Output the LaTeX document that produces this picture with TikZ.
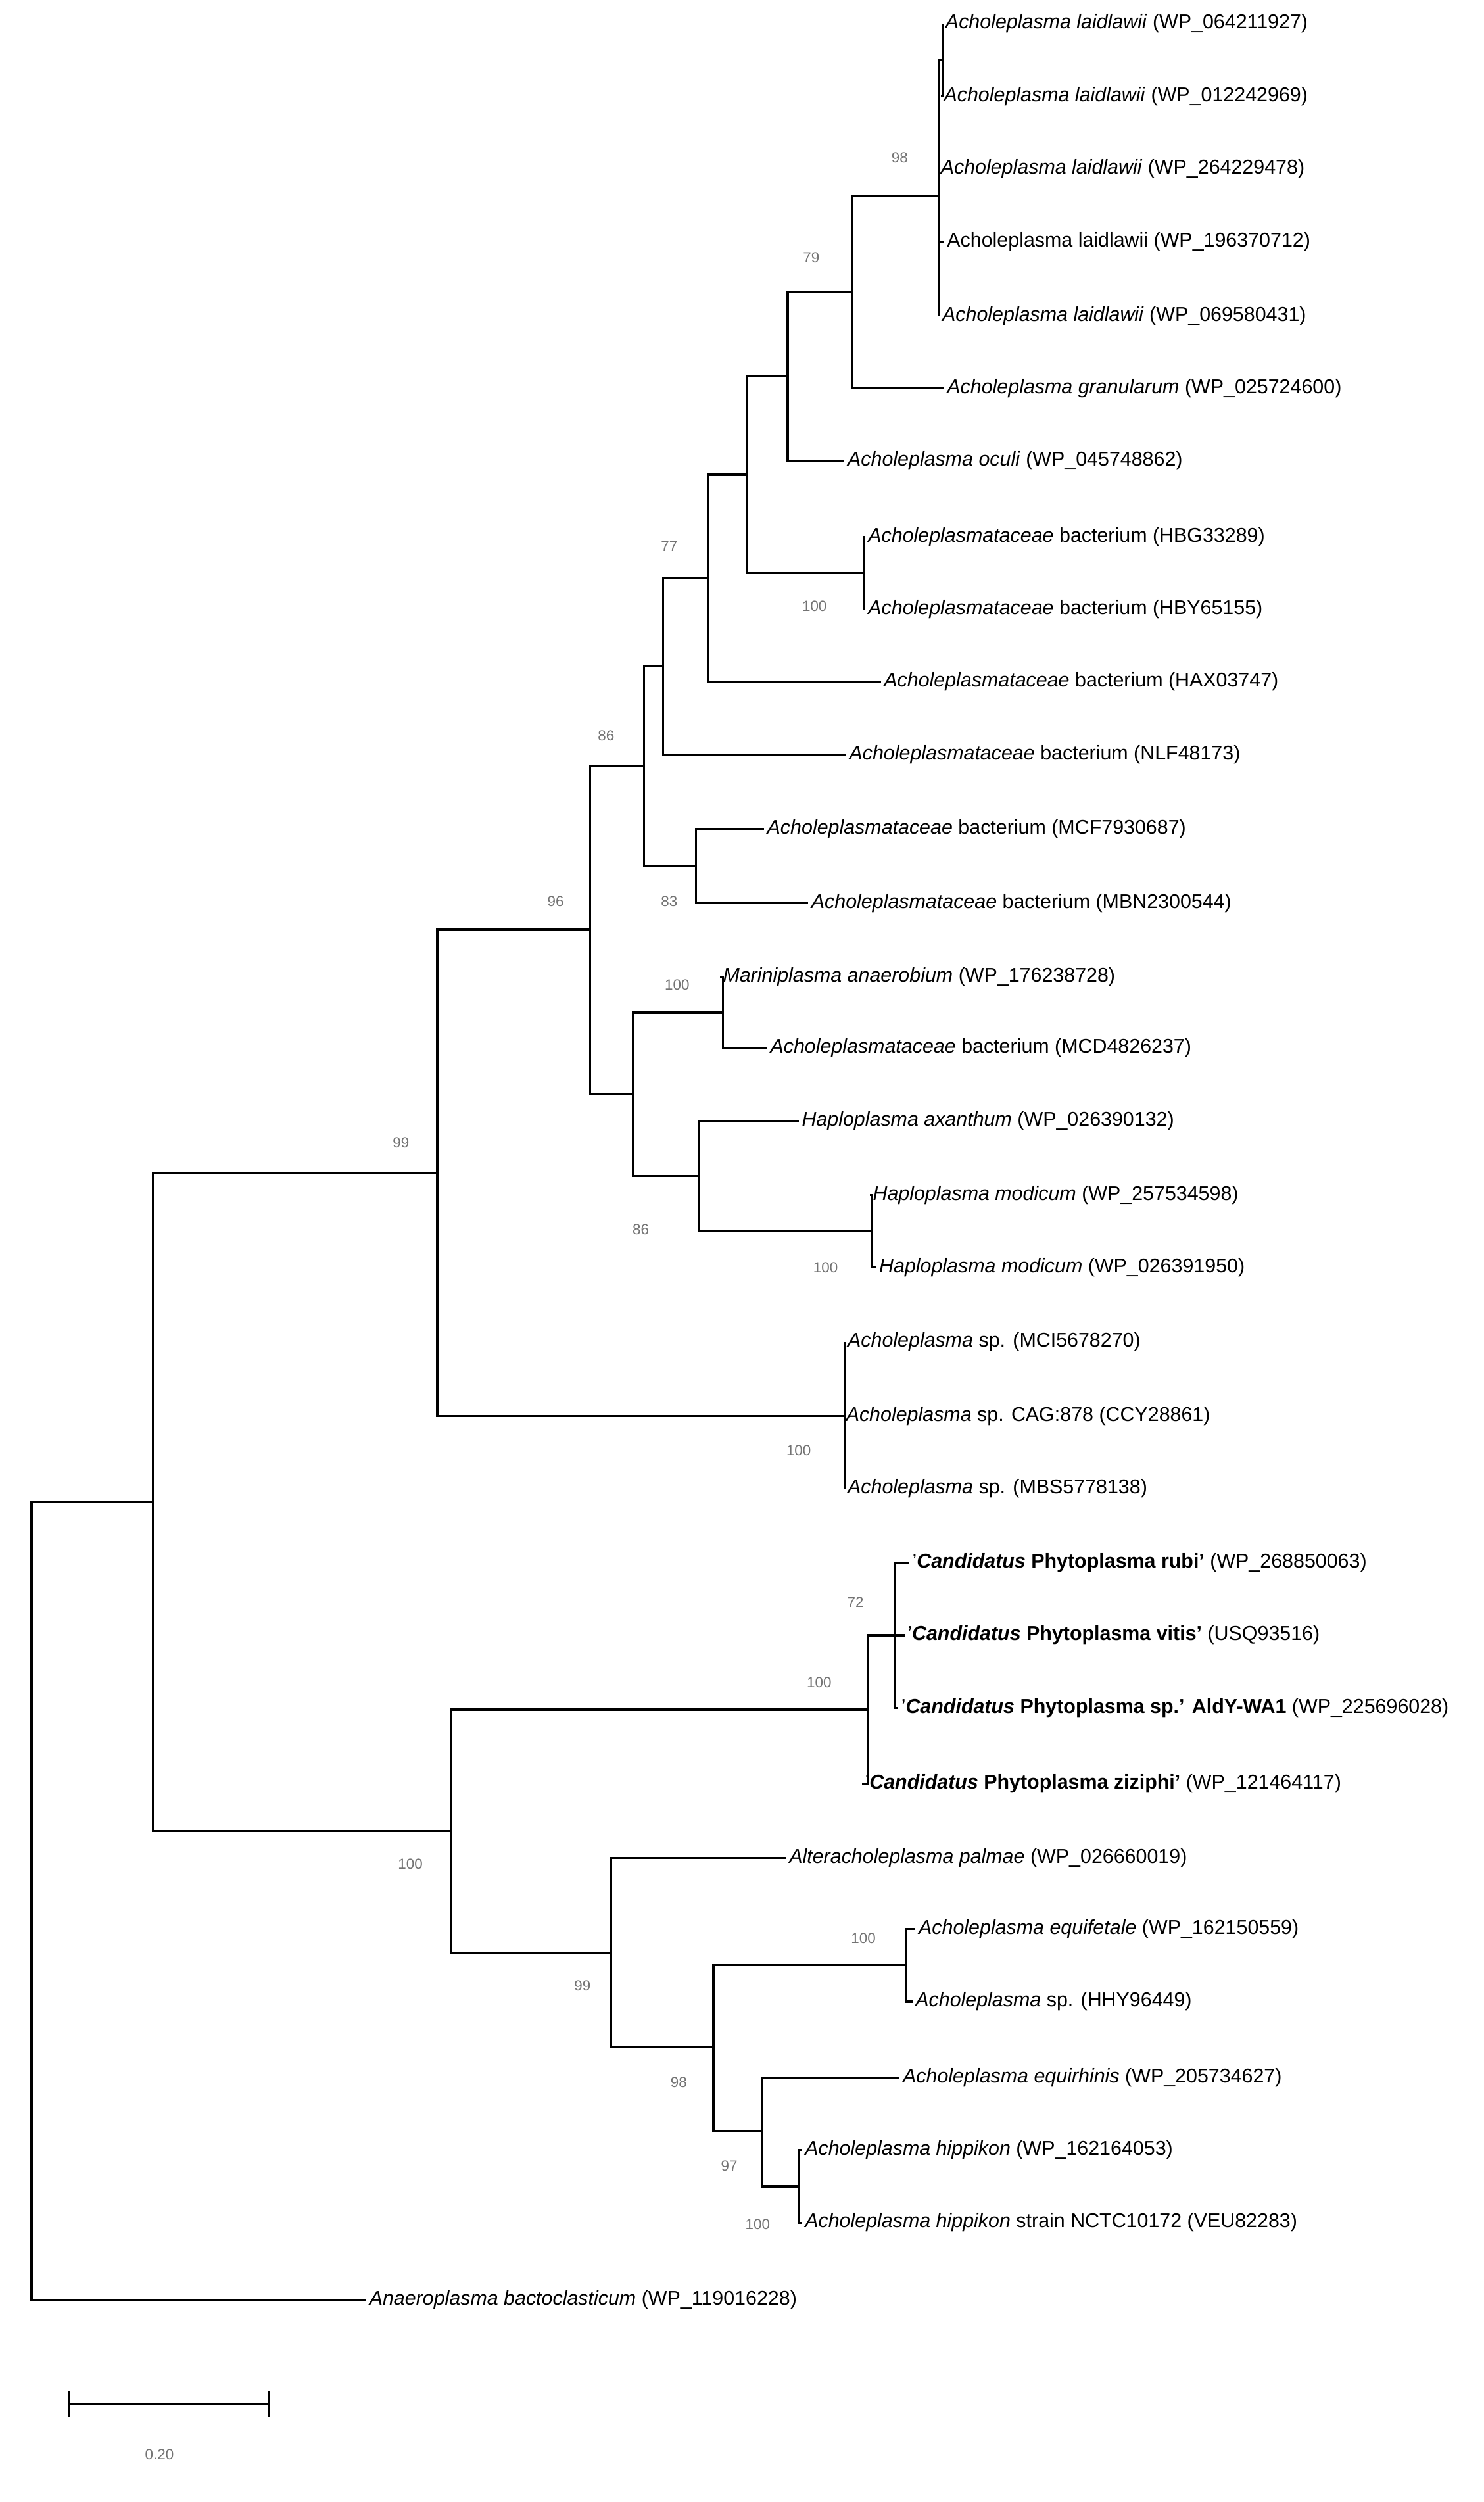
\documentclass[tikz,border=0pt]{standalone}
\usepackage{fontspec}
\setmainfont{Liberation Sans}
\begin{document}
\begin{tikzpicture}[x=0.6pt,y=-0.6pt,
  lf/.style={anchor=west,inner sep=1pt,font=\fontsize{7.6}{9}\selectfont},
  bs/.style={font=\fontsize{5.6}{7}\selectfont,text=black!55,inner sep=0pt},
  br/.style={line width=0.8pt}]
\useasboundingbox (0,0) rectangle (940,1585);
% leaves
\node[lf] (l0) at (597,15) {\textit{Acholeplasma laidlawii} (WP\_064211927)};
\node[lf] (l1) at (596,61) {\textit{Acholeplasma laidlawii} (WP\_012242969)};
\node[lf] (l2) at (594,107) {\textit{Acholeplasma laidlawii} (WP\_264229478)};
\node[lf] (l3) at (598,153) {Acholeplasma laidlawii (WP\_196370712)};
\node[lf] (l4) at (595,200) {\textit{Acholeplasma laidlawii} (WP\_069580431)};
\node[lf] (l5) at (598,246) {\textit{Acholeplasma granularum} (WP\_025724600)};
\node[lf] (l6) at (535,292) {\textit{Acholeplasma oculi} (WP\_045748862)};
\node[lf] (l7) at (548,340) {\textit{Acholeplasmataceae} bacterium (HBG33289)};
\node[lf] (l8) at (548,386) {\textit{Acholeplasmataceae} bacterium (HBY65155)};
\node[lf] (l9) at (558,432) {\textit{Acholeplasmataceae} bacterium (HAX03747)};
\node[lf] (l10) at (536,478) {\textit{Acholeplasmataceae} bacterium (NLF48173)};
\node[lf] (l11) at (484,525) {\textit{Acholeplasmataceae} bacterium (MCF7930687)};
\node[lf] (l12) at (512,572) {\textit{Acholeplasmataceae} bacterium (MBN2300544)};
\node[lf] (l13) at (456,619) {\textit{Mariniplasma anaerobium} (WP\_176238728)};
\node[lf] (l14) at (486,664) {\textit{Acholeplasmataceae} bacterium (MCD4826237)};
\node[lf] (l15) at (506,710) {\textit{Haploplasma axanthum} (WP\_026390132)};
\node[lf] (l16) at (551,757) {\textit{Haploplasma modicum} (WP\_257534598)};
\node[lf] (l17) at (555,803) {\textit{Haploplasma modicum} (WP\_026391950)};
\node[lf] (l18) at (535,850) {\textit{Acholeplasma} sp. (MCI5678270)};
\node[lf] (l19) at (534,897) {\textit{Acholeplasma} sp. CAG:878 (CCY28861)};
\node[lf] (l20) at (535,943) {\textit{Acholeplasma} sp. (MBS5778138)};
\node[lf] (l21) at (576,990) {'\textbf{\textit{Candidatus} Phytoplasma rubi'} (WP\_268850063)};
\node[lf] (l22) at (573,1036) {'\textbf{\textit{Candidatus} Phytoplasma vitis'} (USQ93516)};
\node[lf] (l23) at (569,1082) {'\textbf{\textit{Candidatus} Phytoplasma sp.' AldY-WA1} (WP\_225696028)};
\node[lf] (l24) at (546,1130) {'\textbf{\textit{Candidatus} Phytoplasma ziziphi'} (WP\_121464117)};
\node[lf] (l25) at (498,1177) {\textit{Alteracholeplasma palmae} (WP\_026660019)};
\node[lf] (l26) at (580,1222) {\textit{Acholeplasma equifetale} (WP\_162150559)};
\node[lf] (l27) at (578,1268) {\textit{Acholeplasma} sp. (HHY96449)};
\node[lf] (l28) at (570,1316) {\textit{Acholeplasma equirhinis} (WP\_205734627)};
\node[lf] (l29) at (508,1362) {\textit{Acholeplasma hippikon} (WP\_162164053)};
\node[lf] (l30) at (508,1408) {\textit{Acholeplasma hippikon} strain NCTC10172 (VEU82283)};
\node[lf] (l31) at (232,1457) {\textit{Anaeroplasma bactoclasticum} (WP\_119016228)};
% internal nodes
\coordinate (n01) at (597,38);
\coordinate (A) at (595,124.5);
\coordinate (B) at (539.6,185);
\coordinate (C) at (499,238.5);
\coordinate (Dh) at (547,363);
\coordinate (E) at (473,300.75);
\coordinate (F) at (449,366);
\coordinate (G) at (420,422);
\coordinate (Nm) at (441,548.5);
\coordinate (H) at (408,485);
\coordinate (Nr) at (458,641.5);
\coordinate (Nd) at (552,780);
\coordinate (Nh) at (443,745);
\coordinate (I) at (401,693);
\coordinate (J) at (374,589);
\coordinate (Na) at (535,897);
\coordinate (K) at (277,743);
\coordinate (Nb) at (567,1036);
\coordinate (L) at (550,1083);
\coordinate (Ne) at (574,1245);
\coordinate (Np) at (506,1385);
\coordinate (Nq) at (483,1350);
\coordinate (M) at (452,1297);
\coordinate (N) at (387,1237);
\coordinate (O) at (286,1160);
\coordinate (P) at (97,951.5);
\coordinate (R) at (20,1204);
% branches
\begin{scope}[br]
\draw (n01) |- (l0.west); \draw (n01) |- (l1.west);
\draw (A) |- (n01); \draw (A) |- (l2.west); \draw (A) |- (l3.west); \draw (A) |- (l4.west);
\draw (B) |- (A); \draw (B) |- (l5.west);
\draw (C) |- (B); \draw (C) |- (l6.west);
\draw (Dh) |- (l7.west); \draw (Dh) |- (l8.west);
\draw (E) |- (C); \draw (E) |- (Dh);
\draw (F) |- (E); \draw (F) |- (l9.west);
\draw (G) |- (F); \draw (G) |- (l10.west);
\draw (Nm) |- (l11.west); \draw (Nm) |- (l12.west);
\draw (H) |- (G); \draw (H) |- (Nm);
\draw (Nr) |- (l13.west); \draw (Nr) |- (l14.west);
\draw (Nd) |- (l16.west); \draw (Nd) |- (l17.west);
\draw (Nh) |- (l15.west); \draw (Nh) |- (Nd);
\draw (I) |- (Nr); \draw (I) |- (Nh);
\draw (J) |- (H); \draw (J) |- (I);
\draw (Na) |- (l18.west); \draw (Na) |- (l19.west); \draw (Na) |- (l20.west);
\draw (K) |- (J); \draw (K) |- (Na);
\draw (Nb) |- (l21.west); \draw (Nb) |- (l22.west); \draw (Nb) |- (l23.west);
\draw (L) |- (Nb); \draw (L) |- (l24.west);
\draw (Ne) |- (l26.west); \draw (Ne) |- (l27.west);
\draw (Np) |- (l29.west); \draw (Np) |- (l30.west);
\draw (Nq) |- (l28.west); \draw (Nq) |- (Np);
\draw (M) |- (Ne); \draw (M) |- (Nq);
\draw (N) |- (l25.west); \draw (N) |- (M);
\draw (O) |- (L); \draw (O) |- (N);
\draw (P) |- (K); \draw (P) |- (O);
\draw (R) |- (P); \draw (R) |- (l31.west);
\end{scope}
% bootstrap
\node[bs] (b1) at (570,100) {98};
\node[bs] (b2) at (514,163) {79};
\node[bs] (b3) at (516,384) {100};
\node[bs] (b4) at (424,346) {77};
\node[bs] (b5) at (424,571) {83};
\node[bs] (b6) at (384,466) {86};
\node[bs] (b7) at (429,624) {100};
\node[bs] (b8) at (523,803) {100};
\node[bs] (b9) at (406,779) {86};
\node[bs] (b10) at (352,571) {96};
\node[bs] (b11) at (506,919) {100};
\node[bs] (b12) at (254,724) {99};
\node[bs] (b13) at (542,1015) {72};
\node[bs] (b14) at (519,1066) {100};
\node[bs] (b15) at (547,1228) {100};
\node[bs] (b16) at (480,1409) {100};
\node[bs] (b17) at (462,1372) {97};
\node[bs] (b18) at (430,1319) {98};
\node[bs] (b19) at (369,1258) {99};
\node[bs] (b20) at (260,1181) {100};
% scale bar
\coordinate (s1) at (44,1523); \coordinate (s2) at (170,1523);
\draw[br] (s1) -- (s2);
\draw[br] ([yshift=-5]s1) -- ([yshift=5]s1);
\draw[br] ([yshift=-5]s2) -- ([yshift=5]s2);
\node[bs] (sl) at (101,1555) {0.20};
\end{tikzpicture}
\end{document}
